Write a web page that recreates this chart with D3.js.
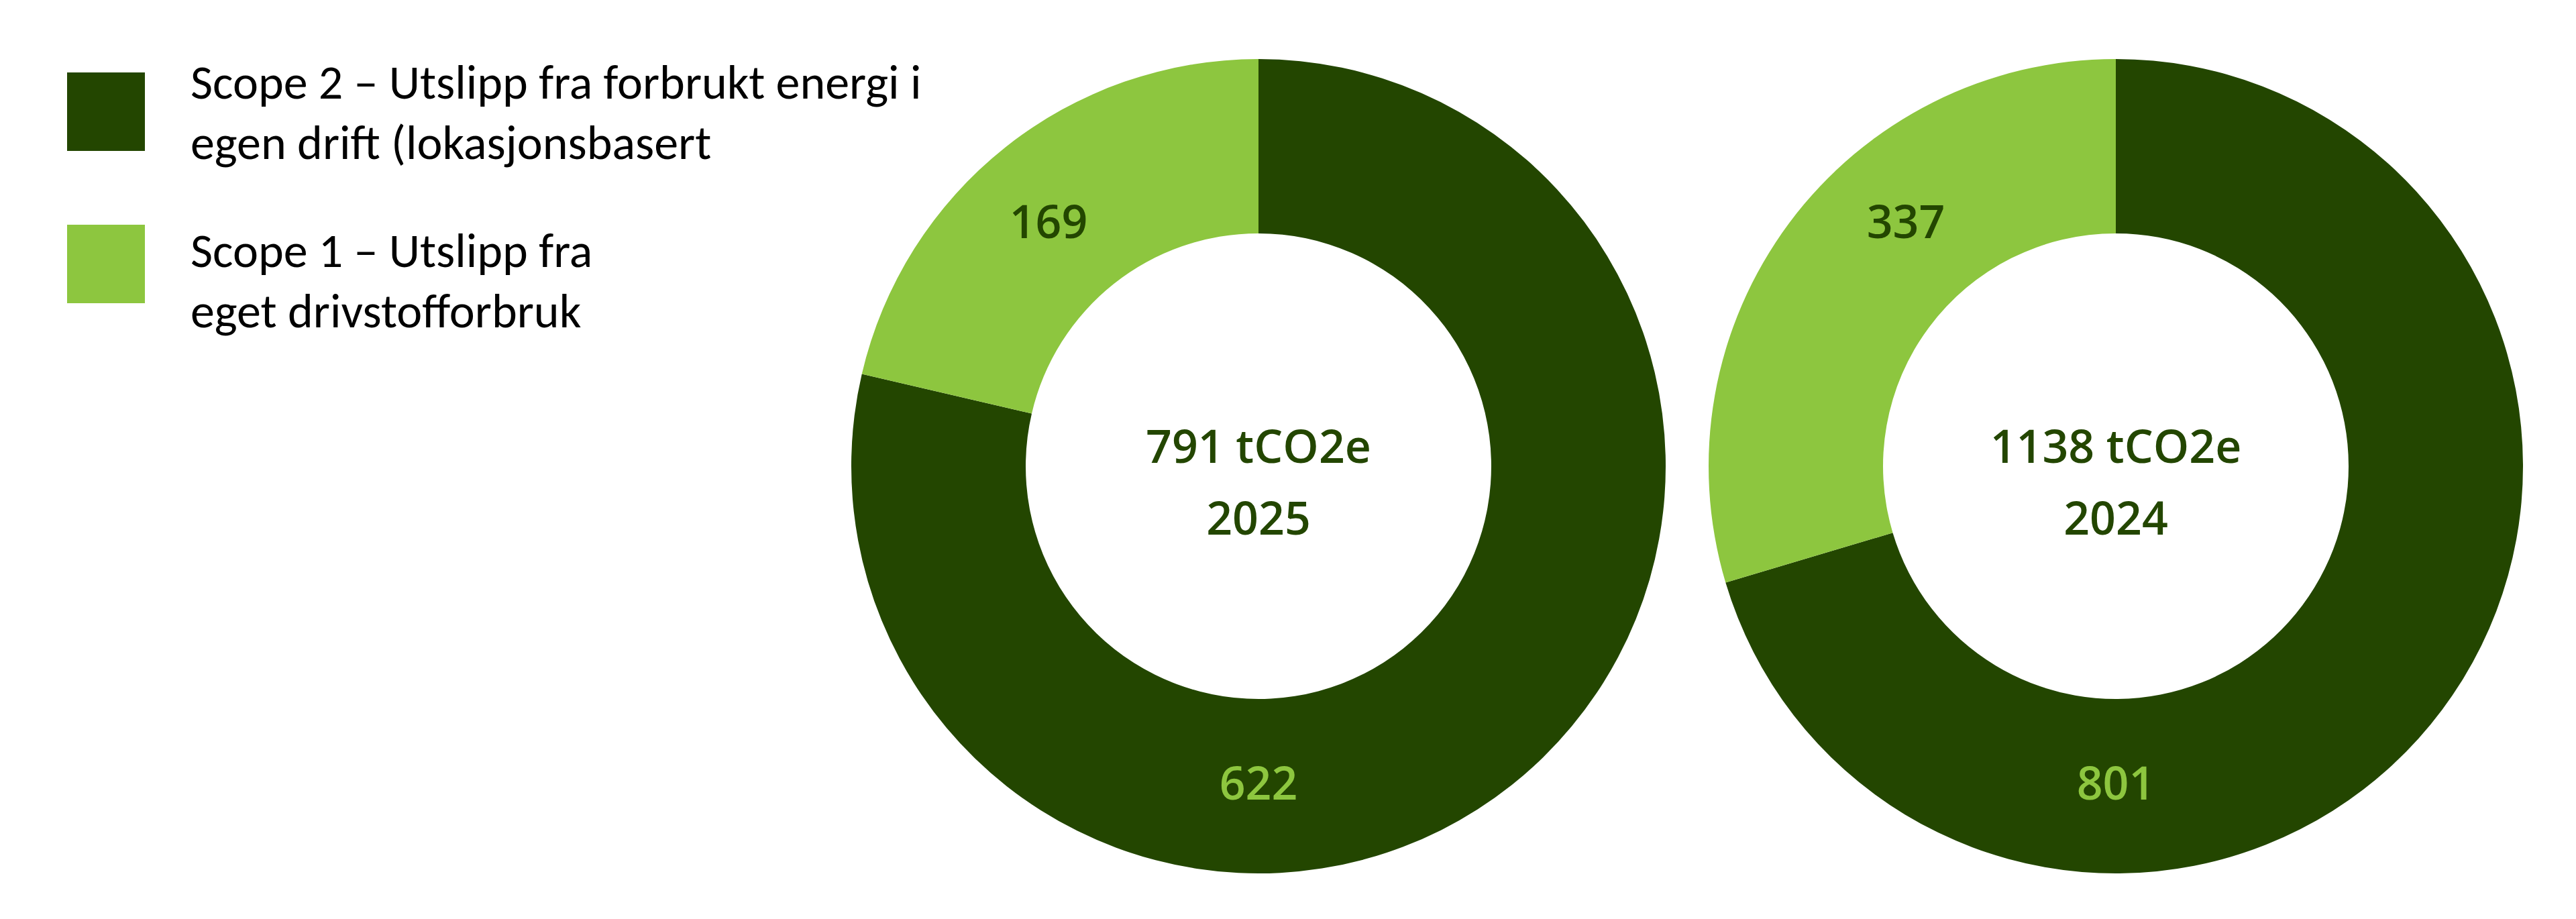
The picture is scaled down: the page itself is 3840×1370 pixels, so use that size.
<!DOCTYPE html>
<html>
<head>
<meta charset="utf-8">
<script src="https://cdn.jsdelivr.net/npm/d3@7"></script>
<style>
  html, body { margin: 0; padding: 0; background: #fff; }
  svg { display: block; }
</style>
</head>
<body>
<div class="chart"></div>
<script>
// data
const years = ['2025', '2024'];
const scope1 = [169, 337];
const scope2 = [622, 801];
const unit = 'tCO2e';
const seriesNames = [
  ['Scope 2 – Utslipp fra forbrukt energi i', 'egen drift (lokasjonsbasert'],
  ['Scope 1 – Utslipp fra', 'eget drivstofforbruk']
];

const width = 3840,
  height = 1370,
  outerR = 607,
  innerR = 347,
  centerY = 695,
  darkGreen = '#234600',
  lightGreen = '#8dc63f',
  numFont = "'Open Sans', 'Noto Sans', sans-serif",
  legendFont = "Carlito, Lato, 'Liberation Sans', sans-serif";

const svg = d3.select('.chart')
  .append('svg')
  .attr('width', width)
  .attr('height', height);

// donut centres
const x = d3.scalePoint()
  .domain(years)
  .range([1876, 3154]);

const color = d3.scaleOrdinal()
  .domain(['scope2', 'scope1'])
  .range([darkGreen, lightGreen]);

const labelColor = d3.scaleOrdinal()
  .domain(['scope2', 'scope1'])
  .range([lightGreen, darkGreen]);

const pie = d3.pie()
  .sort(null)
  .value(d => d.value);

const arc = d3.arc()
  .innerRadius(innerR)
  .outerRadius(outerR);

const labelR = (innerR + outerR) / 2;

years.forEach((year, i) => {
  const slices = [
    { key: 'scope2', value: scope2[i] },
    { key: 'scope1', value: scope1[i] }
  ];
  const total = scope1[i] + scope2[i];

  const g = svg.append('g')
    .attr('transform', `translate(${x(year)}, ${centerY})`);

  g.selectAll('path')
    .data(pie(slices))
    .enter()
    .append('path')
    .attr('d', arc)
    .attr('fill', d => color(d.data.key));

  // value labels: big slice at the bottom, small slice upper left
  g.selectAll('text.val')
    .data(pie(slices))
    .enter()
    .append('text')
    .attr('class', 'val')
    .attr('transform', d => {
      const a = d.data.key === 'scope2' ? Math.PI : -41 * Math.PI / 180;
      return `translate(${labelR * Math.sin(a)}, ${-labelR * Math.cos(a) - 4})`;
    })
    .attr('dy', '0.36em')
    .attr('text-anchor', 'middle')
    .attr('font-family', numFont)
    .attr('font-weight', 600)
    .attr('font-size', 68)
    .attr('fill', d => labelColor(d.data.key))
    .text(d => d.data.value);

  const centre = g.append('text')
    .attr('text-anchor', 'middle')
    .attr('font-family', numFont)
    .attr('font-weight', 600)
    .attr('font-size', 68)
    .attr('fill', darkGreen);

  centre.append('tspan')
    .attr('x', 0)
    .attr('y', -5)
    .text(`${total} ${unit}`);

  centre.append('tspan')
    .attr('x', 0)
    .attr('y', 102)
    .text(year);
});

// legend
const legend = svg.append('g')
  .selectAll('g')
  .data(seriesNames)
  .enter()
  .append('g');

legend.append('rect')
  .attr('x', 100)
  .attr('y', (d, i) => 108 + i * 227)
  .attr('width', 116)
  .attr('height', 117)
  .attr('fill', (d, i) => color.range()[i]);

legend.append('text')
  .attr('font-family', legendFont)
  .attr('font-size', 72)
  .attr('fill', '#000')
  .attr('transform', (d, i) => `translate(284, ${147 + i * 251})`)
  .selectAll('tspan')
  .data(d => d)
  .enter()
  .append('tspan')
  .attr('x', 0)
  .attr('y', (d, i) => i * 90)
  .text(d => d);
</script>
</body>
</html>
